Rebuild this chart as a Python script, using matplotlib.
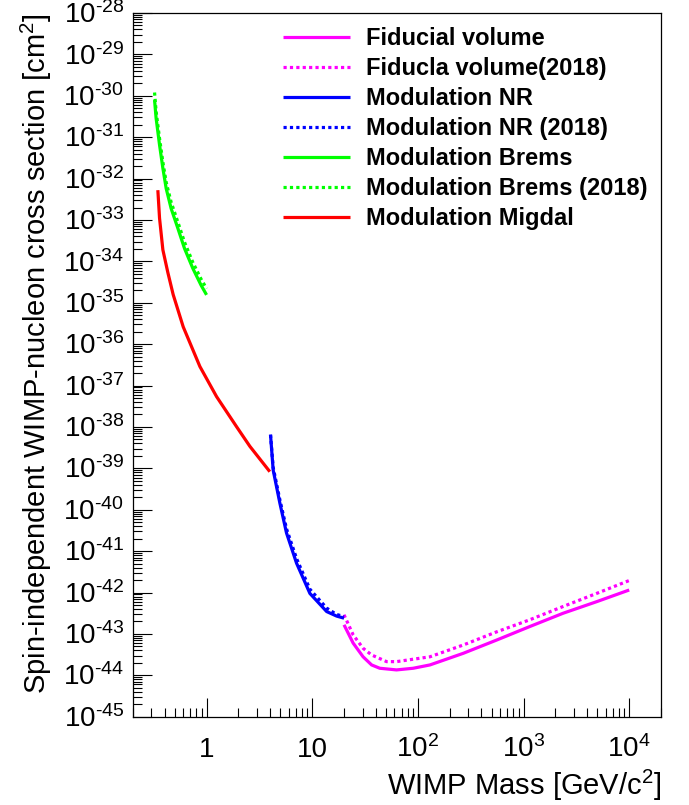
import numpy as np
import matplotlib
matplotlib.use("Agg")
import matplotlib.pyplot as plt
from matplotlib.ticker import FixedLocator, NullFormatter, LogLocator
from matplotlib.transforms import ScaledTranslation

plt.rcParams['font.family'] = ['Liberation Sans', 'DejaVu Sans']
plt.rcParams['mathtext.fontset'] = 'custom'
plt.rcParams['mathtext.rm'] = 'Liberation Sans'
plt.rcParams['mathtext.it'] = 'Liberation Sans:italic'
plt.rcParams['mathtext.bf'] = 'Liberation Sans:bold'

# ---------------- data ----------------
brems_mass = [0.322, 0.333, 0.359, 0.386, 0.415, 0.462, 0.535, 0.619, 0.741, 0.889, 1.0]
brems_xsec = [7.9e-31, 2.9e-31, 6.5e-32, 1.78e-32, 5.75e-33, 1.9e-33, 6.3e-34,
              2.04e-34, 6.8e-35, 2.63e-35, 1.55e-35]

brems18_mass = [0.322, 0.333, 0.359, 0.386, 0.415, 0.462, 0.535, 0.619, 0.741, 0.889, 1.0]
brems18_xsec = [1.2e-30, 4.2e-31, 9.3e-32, 2.5e-32, 8.1e-33, 2.7e-33, 8.9e-34,
                2.9e-34, 9.5e-35, 3.7e-35, 2.2e-35]

migdal_mass = [0.346, 0.359, 0.386, 0.43, 0.483, 0.601, 0.865, 1.244, 1.92, 2.57, 3.97]
migdal_xsec = [5.25e-33, 1.1e-33, 1.9e-34, 5.4e-35, 1.58e-35, 2.63e-36, 2.88e-37,
               5.4e-38, 1.02e-38, 3.4e-39, 8.3e-40]

nr_mass = [4.03, 4.27, 4.94, 5.71, 7.11, 9.51, 13.7, 17.0, 20.0]
nr_xsec = [6.5e-39, 9.1e-40, 1.45e-40, 2.75e-41, 5.1e-42, 9.5e-43, 3.47e-43, 2.7e-43, 2.4e-43]

nr18_mass = [4.03, 4.27, 4.94, 5.71, 7.11, 9.51, 13.7, 17.0, 20.0]
nr18_xsec = [6.5e-39, 1.05e-39, 1.74e-40, 3.47e-41, 6.6e-42, 1.2e-42, 4.2e-43, 2.95e-43, 2.63e-43]

fid_mass = [20, 24.4, 30.3, 36.5, 43.6, 62.8, 90.3, 130, 269, 556, 1148, 2371, 4914, 10000]
fid_xsec = [1.66e-43, 6.0e-44, 2.8e-44, 1.78e-44, 1.48e-44, 1.35e-44, 1.48e-44, 1.78e-44,
            3.4e-44, 7.1e-44, 1.51e-43, 3.16e-43, 6.0e-43, 1.15e-42]

fid18_mass = [20, 24.4, 30.3, 36.5, 50.6, 62.8, 130, 269, 556, 1148, 2371, 4914, 10000]
fid18_xsec = [2.9e-43, 9.5e-44, 4.5e-44, 3.1e-44, 2.14e-44, 2.14e-44, 2.8e-44, 5.4e-44,
              1.12e-43, 2.2e-43, 4.6e-43, 9.5e-43, 1.95e-42]

labels = ["Fiducial volume", "Fiducla volume(2018)", "Modulation NR",
          "Modulation NR (2018)", "Modulation Brems", "Modulation Brems (2018)",
          "Modulation Migdal"]

x_major = [1, 10, 100, 1000, 10000]
x_major_labels = ["1", "10", r"$\mathregular{10^{2}}$", r"$\mathregular{10^{3}}$",
                  r"$\mathregular{10^{4}}$"]
y_exponents = list(range(-45, -27))

# ---------------- figure ----------------
W, H = 689, 805
fig = plt.figure(figsize=(W / 100, H / 100), dpi=100)
L, R, T, B = 132.7, 661, 13, 716.7
ax = fig.add_axes([L / W, 1 - B / H, (R - L) / W, (B - T) / H])
ax.set_xscale('log')
ax.set_yscale('log')
ax.set_xlim(0.2, 2e4)
ax.set_ylim(1e-45, 1e-28)

lw = 2.3
dot = (0, (1, 1))
ax.plot(fid_mass, fid_xsec, color='#ff00ff', lw=lw, solid_capstyle='butt', label=labels[0])
ax.plot(fid18_mass, fid18_xsec, color='#ff00ff', lw=lw, ls=dot, dash_capstyle='butt', label=labels[1])
ax.plot(nr_mass, nr_xsec, color='#0000ff', lw=lw, solid_capstyle='butt', label=labels[2])
ax.plot(nr18_mass, nr18_xsec, color='#0000ff', lw=lw, ls=dot, dash_capstyle='butt', label=labels[3])
ax.plot(brems_mass, brems_xsec, color='#00ff00', lw=lw, solid_capstyle='butt', label=labels[4])
ax.plot(brems18_mass, brems18_xsec, color='#00ff00', lw=lw, ls=dot, dash_capstyle='butt', label=labels[5])
ax.plot(migdal_mass, migdal_xsec, color='#ff0000', lw=lw, solid_capstyle='butt', label=labels[6])

# ticks
ax.xaxis.set_major_locator(FixedLocator(x_major))
ax.set_xticklabels(x_major_labels)
ax.xaxis.set_minor_locator(LogLocator(base=10, subs=np.arange(2, 10), numticks=100))
ax.xaxis.set_minor_formatter(NullFormatter())
y_major = [10.0 ** e for e in y_exponents]
ax.yaxis.set_major_locator(FixedLocator(y_major))
ax.set_yticklabels([r"$\mathregular{10^{\text{-}%d}}$" % (-e) for e in y_exponents])
ax.yaxis.set_minor_locator(LogLocator(base=10, subs=np.arange(2, 10), numticks=100))
ax.yaxis.set_minor_formatter(NullFormatter())

ax.tick_params(which='both', direction='in', top=False, right=False, width=0.8, color='black')
ax.tick_params(which='major', length=13.5)
ax.tick_params(which='minor', length=6.5)
ax.tick_params(axis='x', which='major', labelsize=20, pad=29)
ax.tick_params(axis='y', which='major', labelsize=20, pad=6.3)
for sp in ax.spines.values():
    sp.set_linewidth(0.9)

for t in ax.xaxis.get_major_ticks():
    t.label1.set_verticalalignment('baseline')
off = ScaledTranslation(0, -7.3 / 72, fig.dpi_scale_trans)
for t in ax.yaxis.get_major_ticks():
    t.label1.set_verticalalignment('baseline')
    t.label1.set_transform(t.label1.get_transform() + off)

ax.set_xlabel(r"WIMP Mass [GeV/c$\mathregular{^{2}}$]", fontsize=21, ha='right', va='center')
ax.xaxis.set_label_coords(1.0, -(785 - B) / (B - T))
ax.set_ylabel(r"Spin-independent WIMP-nucleon cross section [cm$\mathregular{^{2}}$]",
              fontsize=21, ha='right', va='center')
ax.yaxis.set_label_coords(-(L - 36) / (R - L), 1.0)

leg = ax.legend(loc='upper left', bbox_to_anchor=(283 / W, 1 - 27 / H),
                bbox_transform=fig.transFigure, frameon=False,
                prop={'family': 'Liberation Sans', 'weight': 'bold', 'size': 17},
                handlelength=2.84, handletextpad=0.68, labelspacing=0.30,
                borderpad=0, borderaxespad=0)

fig.savefig("out.png", dpi=100)
